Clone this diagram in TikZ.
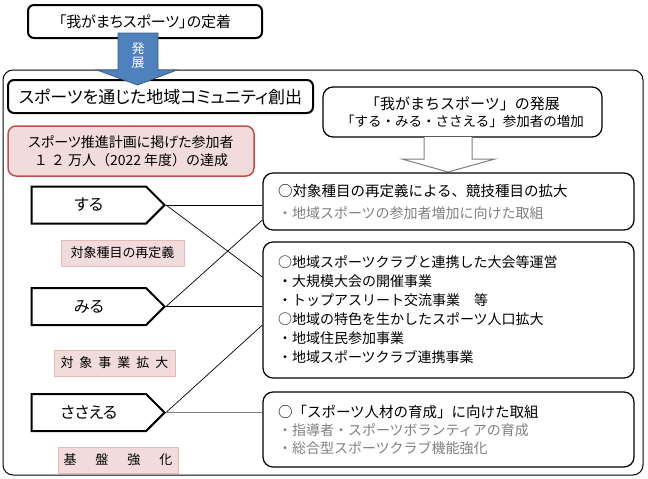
\documentclass[tikz,border=0pt]{standalone}
\usepackage{fontspec}
\setmainfont[RawFeature=+palt]{Noto Sans CJK JP}
\newfontfamily\fullwidth{Noto Sans CJK JP}
\usetikzlibrary{shapes.symbols}
\definecolor{arrowblue}{HTML}{4F81BD}
\definecolor{arrowedge}{HTML}{385D8A}
\definecolor{pinkfill}{HTML}{F2DCDB}
\definecolor{pinkedge}{HTML}{C0504D}
\definecolor{pinklight}{HTML}{E6B9B8}
\definecolor{subgray}{HTML}{7F7F7F}
\tikzset{
  headbox/.style={draw,line width=2pt,rounded corners=6pt,inner sep=0pt},
  itembox/.style={draw,line width=1.2pt,rounded corners=10pt,align=left,inner xsep=15pt,inner ysep=0pt,text width=341pt,minimum width=371pt},
  kind/.style={signal,signal to=east,signal pointer angle=90,draw,line width=2pt,minimum width=133pt,minimum height=37pt,inner sep=0pt,anchor=east,font=\fontsize{16}{16}\selectfont},
  tag/.style={draw=pinklight,fill=pinkfill,line width=1pt,minimum height=26pt,inner sep=0pt,font=\fontsize{13}{13}\selectfont},
}
\begin{document}
\begin{tikzpicture}[x=1pt,y=-1pt]
        \useasboundingbox (0,0) rectangle (648,479);
        \draw[line width=1pt,rounded corners=10pt] (3,70) rectangle (643,475);
        \node[headbox,minimum width=234pt,minimum height=33pt,font=\fontsize{15}{15}\selectfont] (base) at (145,21.5) {「我がまちスポーツ」の定着};
        \node[headbox,minimum width=305pt,minimum height=33pt,font=\fontsize{17}{17}\selectfont] (title) at (160.5,96.5) {スポーツを通じた地域コミュニティ創出};
        % blue arrow
        \fill[arrowblue,draw=arrowedge,line width=0.8pt] (118,33)--(158,33)--(158,70)--(177,70)--(137.5,85)--(97,70)--(118,70)--cycle;
        \node[white,align=center,font=\fontsize{13}{14}\selectfont,inner sep=0pt] (grow) at (138,56) {発\\展};
        \node[draw=pinkedge,fill=pinkfill,line width=1.5pt,rounded corners=8pt,minimum width=246pt,minimum height=50pt,align=center,inner sep=0pt,font=\fontsize{14}{18}\selectfont] (goal) at (131,151) {スポーツ推進計画に掲げた参加者\\{\fullwidth １ ２ 万人（2022 年度）の達成}};
        \node[draw,line width=1.2pt,rounded corners=10pt,minimum width=279pt,minimum height=50pt,align=center,inner sep=0pt,font=\fullwidth\fontsize{13.5}{17}\selectfont] (aim) at (462.5,112) {{\fontsize{15}{15}\selectfont「我がまちスポーツ」の発展}\\「する・みる・ささえる」参加者の増加};
        \draw[subgray,fill=white,line width=1pt] (424,137)--(424,159)--(402,159)--(448,172)--(495,159)--(472,159)--(472,137);
        \node[itembox,minimum height=57pt,font=\fullwidth\fontsize{14}{22}\selectfont] (boxA) at (448.5,201.5) {{\fontsize{14.5}{14.5}\selectfont ○対象種目の再定義による、競技種目の拡大}\\{\color{subgray}・地域スポーツの参加者増加に向けた取組}};
        \node[itembox,minimum height=136pt,font=\fullwidth\fontsize{14}{19}\selectfont] (boxB) at (448.5,310) {○地域スポーツクラブと連携した大会等運営\\・大規模大会の開催事業\\・トップアスリート交流事業　等\\○地域の特色を生かしたスポーツ人口拡大\\・地域住民参加事業\\・地域スポーツクラブ連携事業};
        \node[itembox,minimum height=75pt,font=\fullwidth\fontsize{14}{18}\selectfont] (boxC) at (448.5,429.5) {{\fontsize{14.5}{14.5}\selectfont ○「スポーツ人材の育成」に向けた取組}\\{\color{subgray}・指導者・スポーツボランティアの育成}\\{\color{subgray}・総合型スポーツクラブ機能強化}};
        \node[kind] (doit) at (166,205) {する};
        \node[kind] (watch) at (166,306.5) {みる};
        \node[kind] (support) at (166,412.5) {ささえる};
        \node[tag,minimum width=123pt] (tagA) at (122.5,253) {対象種目の再定義};
        \node[tag,minimum width=121pt] (tagB) at (114.5,363) {対\hspace{6pt}象\hspace{6pt}事\hspace{6pt}業\hspace{6pt}拡\hspace{6pt}大};
        \node[tag,minimum width=120pt] (tagC) at (118,460) {基\hspace{19pt}盤\hspace{19pt}強\hspace{19pt}化};
        \draw[line width=0.7pt] (doit.east)--(doit.east -| boxA.west);
        \draw[line width=0.7pt] (doit.east)--([yshift=33pt]boxB.west);
        \draw[line width=0.7pt] (watch.east)--([yshift=-18.5pt]boxA.west);
        \draw[line width=0.7pt] (watch.east)--(watch.east -| boxB.west);
        \draw[line width=0.7pt] (support.east)--([yshift=-15pt]boxB.west);
        \draw[subgray,line width=1.5pt] (support.east)--(support.east -| boxC.west);
    \end{tikzpicture}
\end{document}
